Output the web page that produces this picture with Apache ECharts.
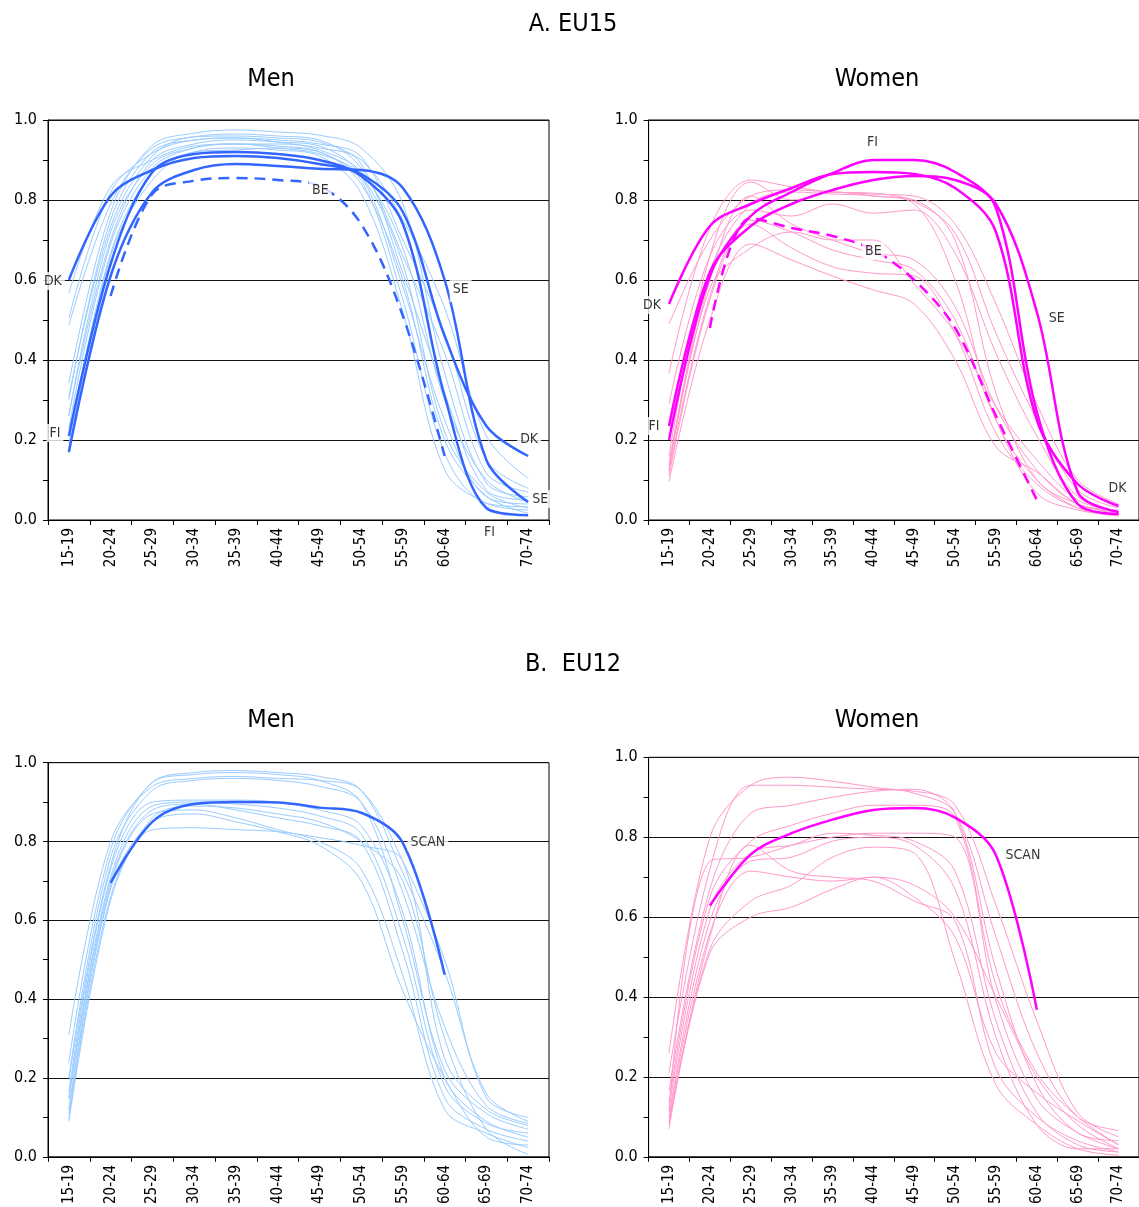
<!DOCTYPE html>
<html><head><meta charset="utf-8">
<script src="https://cdn.jsdelivr.net/npm/echarts/dist/echarts.min.js"></script>
<style>html,body{margin:0;padding:0;background:#fff}#c{width:1139px;height:1207px}</style>
</head><body><div id="c"></div>
<script>
// ---------- DATA ----------
const categories = ['15-19','20-24','25-29','30-34','35-39','40-44','45-49','50-54','55-59','60-64','65-69','70-74'];
const yMin = 0, yMax = 1, yStep = 0.2;

// A. EU15 — Men
const eu15MenDK = [0.60, 0.81, 0.875, 0.905, 0.91, 0.905, 0.89, 0.865, 0.77, 0.46, 0.235, 0.16];
const eu15MenFI = [0.21, 0.64, 0.87, 0.915, 0.92, 0.915, 0.90, 0.86, 0.74, 0.31, 0.03, 0.012];
const eu15MenSE = [0.17, 0.61, 0.82, 0.875, 0.89, 0.885, 0.878, 0.875, 0.83, 0.60, 0.15, 0.045];
const eu15MenBE = [null, 0.56, 0.815, 0.848, 0.855, 0.85, 0.835, 0.74, 0.51, 0.16, null, null];
const eu15MenOther = [
  [0.567, 0.833, 0.90, 0.935, 0.94, 0.94, 0.93, 0.90, 0.75, 0.53, 0.21, 0.104],
  [0.504, 0.82, 0.917, 0.95, 0.955, 0.95, 0.94, 0.908, 0.70, 0.467, 0.15, 0.079],
  [0.487, 0.79, 0.93, 0.958, 0.965, 0.96, 0.95, 0.88, 0.66, 0.417, 0.117, 0.07],
  [0.342, 0.77, 0.937, 0.967, 0.975, 0.97, 0.962, 0.93, 0.79, 0.367, 0.092, 0.058],
  [0.308, 0.733, 0.91, 0.958, 0.96, 0.955, 0.945, 0.89, 0.617, 0.317, 0.075, 0.05],
  [0.262, 0.70, 0.90, 0.94, 0.95, 0.945, 0.935, 0.86, 0.583, 0.25, 0.058, 0.04],
  [0.23, 0.69, 0.88, 0.93, 0.94, 0.935, 0.92, 0.85, 0.55, 0.167, 0.042, 0.033],
  [0.19, 0.667, 0.867, 0.92, 0.93, 0.925, 0.91, 0.817, 0.52, 0.125, 0.042, 0.025],
  [0.167, 0.66, 0.85, 0.92, 0.925, 0.93, 0.92, 0.84, 0.60, 0.20, 0.06, 0.017],
  [0.30, 0.75, 0.92, 0.95, 0.955, 0.945, 0.925, 0.87, 0.68, 0.30, 0.10, 0.045],
  [0.26, 0.72, 0.89, 0.93, 0.94, 0.93, 0.915, 0.86, 0.64, 0.22, 0.07, 0.03]
];

// A. EU15 — Women
const eu15WomenDK = [0.54, 0.735, 0.79, 0.83, 0.865, 0.87, 0.865, 0.83, 0.72, 0.25, 0.09, 0.035];
const eu15WomenFI = [0.20, 0.61, 0.76, 0.82, 0.867, 0.90, 0.90, 0.87, 0.78, 0.27, 0.04, 0.015];
const eu15WomenSE = [0.235, 0.62, 0.735, 0.79, 0.825, 0.85, 0.86, 0.85, 0.79, 0.52, 0.07, 0.02];
const eu15WomenBE = [null, 0.48, 0.755, 0.73, 0.71, 0.675, 0.60, 0.48, 0.26, 0.05, null, null];
const eu15WomenOther = [
  [0.49, 0.70, 0.81, 0.825, 0.82, 0.815, 0.81, 0.74, 0.54, 0.29, 0.10, 0.04],
  [0.367, 0.73, 0.85, 0.833, 0.82, 0.817, 0.796, 0.717, 0.467, 0.25, 0.075, 0.03],
  [0.29, 0.66, 0.775, 0.76, 0.79, 0.767, 0.775, 0.667, 0.417, 0.21, 0.058, 0.02],
  [0.16, 0.66, 0.845, 0.80, 0.82, 0.81, 0.80, 0.70, 0.317, 0.10, 0.04, 0.015],
  [0.133, 0.60, 0.81, 0.74, 0.70, 0.667, 0.65, 0.533, 0.283, 0.125, 0.04, 0.02],
  [0.12, 0.56, 0.75, 0.72, 0.675, 0.65, 0.625, 0.50, 0.25, 0.067, 0.025, 0.012],
  [0.11, 0.55, 0.74, 0.68, 0.633, 0.617, 0.61, 0.467, 0.217, 0.09, 0.03, 0.015],
  [0.096, 0.50, 0.69, 0.65, 0.61, 0.575, 0.54, 0.40, 0.183, 0.12, 0.04, 0.025],
  [0.14, 0.58, 0.68, 0.72, 0.70, 0.70, 0.59, 0.467, 0.283, 0.15, 0.05, 0.02],
  [0.125, 0.62, 0.79, 0.82, 0.815, 0.81, 0.79, 0.60, 0.25, 0.10, 0.03, 0.01]
];

// B. EU12 — Men
const eu12MenSCAN = [null, 0.695, 0.85, 0.895, 0.90, 0.899, 0.886, 0.873, 0.796, 0.462, null, null];
const eu12MenOther = [
  [0.31, 0.80, 0.94, 0.96, 0.965, 0.96, 0.955, 0.93, 0.75, 0.50, 0.15, 0.10],
  [0.24, 0.78, 0.95, 0.975, 0.98, 0.975, 0.965, 0.93, 0.72, 0.47, 0.16, 0.09],
  [0.20, 0.76, 0.93, 0.955, 0.96, 0.955, 0.94, 0.90, 0.67, 0.33, 0.13, 0.085],
  [0.195, 0.74, 0.95, 0.97, 0.975, 0.97, 0.955, 0.90, 0.60, 0.22, 0.11, 0.07],
  [0.165, 0.73, 0.90, 0.905, 0.905, 0.90, 0.88, 0.84, 0.62, 0.20, 0.09, 0.05],
  [0.15, 0.71, 0.89, 0.90, 0.895, 0.885, 0.865, 0.82, 0.56, 0.18, 0.085, 0.06],
  [0.145, 0.70, 0.88, 0.895, 0.88, 0.86, 0.84, 0.80, 0.52, 0.15, 0.07, 0.04],
  [0.12, 0.69, 0.87, 0.88, 0.86, 0.83, 0.80, 0.73, 0.46, 0.12, 0.06, 0.023],
  [0.11, 0.68, 0.85, 0.87, 0.85, 0.825, 0.79, 0.70, 0.42, 0.20, 0.05, 0.03],
  [0.095, 0.66, 0.83, 0.835, 0.83, 0.825, 0.81, 0.79, 0.75, 0.25, 0.12, 0.08],
  [0.09, 0.65, 0.86, 0.89, 0.885, 0.87, 0.85, 0.80, 0.70, 0.30, 0.07, 0.006]
];

// B. EU12 — Women
const eu12WomenSCAN = [null, 0.629, 0.757, 0.81, 0.844, 0.868, 0.873, 0.849, 0.755, 0.368, null, null];
const eu12WomenOther = [
  [0.26, 0.80, 0.93, 0.95, 0.94, 0.925, 0.91, 0.86, 0.55, 0.26, 0.10, 0.066],
  [0.21, 0.72, 0.93, 0.93, 0.925, 0.92, 0.915, 0.88, 0.63, 0.34, 0.11, 0.05],
  [0.165, 0.67, 0.86, 0.88, 0.90, 0.915, 0.92, 0.86, 0.47, 0.18, 0.06, 0.04],
  [0.136, 0.65, 0.79, 0.83, 0.86, 0.88, 0.88, 0.85, 0.43, 0.21, 0.10, 0.03],
  [0.12, 0.62, 0.76, 0.78, 0.80, 0.81, 0.81, 0.80, 0.39, 0.145, 0.06, 0.02],
  [0.112, 0.74, 0.75, 0.78, 0.81, 0.805, 0.79, 0.715, 0.34, 0.11, 0.03, 0.012],
  [0.10, 0.59, 0.74, 0.75, 0.79, 0.80, 0.78, 0.67, 0.30, 0.08, 0.02, 0.02],
  [0.095, 0.56, 0.715, 0.70, 0.69, 0.70, 0.65, 0.55, 0.26, 0.16, 0.09, 0.03],
  [0.085, 0.55, 0.78, 0.715, 0.70, 0.69, 0.64, 0.59, 0.22, 0.10, 0.04, 0.012],
  [0.08, 0.52, 0.64, 0.68, 0.75, 0.775, 0.76, 0.49, 0.18, 0.08, 0.02, 0.004],
  [0.07, 0.51, 0.60, 0.625, 0.67, 0.70, 0.68, 0.60, 0.40, 0.20, 0.08, 0.02]
];

// Annotation texts with their anchor (category index, value)
const notesEU15Men = [['DK',0,0.5975],['FI',0,0.2175],['BE',6,0.825],['SE',9,0.576],['DK',11,0.2025],['SE',11,0.0525],['FI',10,-0.03]];
const notesEU15Women = [['FI',5,0.945],['BE',5,0.6725],['DK',0,0.5375],['FI',0,0.235],['SE',9,0.505],['DK',11,0.08]];
const notesEU12Men = [['SCAN',8,0.799]];
const notesEU12Women = [['SCAN',8,0.755]];

// ---------- STYLE / LAYOUT ----------
const FONT = "'DejaVu Sans Condensed','DejaVu Sans',sans-serif";
const TFONT = "'Liberation Sans Narrow','Arial Narrow','DejaVu Sans Condensed',sans-serif";
const LIGHT_BLUE = '#99ccff', BLUE = '#3366ff', PINK = '#ff99cc', MAGENTA = '#ff00ff';
const noteDx = {
  0: [-16, -14, 1, 16, 1, 12, 3],
  1: [-1, 0, -17, -15, 20, -1],
  2: [25],
  3: [27]
};
const notePad = {0: {3: [9, 3, 2, 3]}};

const panels = [
  {grid:{left:48, top:120, width:501, height:400}, other:eu15MenOther, oc:LIGHT_BLUE, thick:[eu15MenDK, eu15MenFI, eu15MenSE], dashed:eu15MenBE, tc:BLUE, notes:notesEU15Men, hide:[10]},
  {grid:{left:648.6, top:120, width:500, height:400}, other:eu15WomenOther, oc:PINK, thick:[eu15WomenDK, eu15WomenFI, eu15WomenSE], dashed:eu15WomenBE, tc:MAGENTA, notes:notesEU15Women, hide:[]},
  {grid:{left:48, top:762.7, width:501, height:395}, other:eu12MenOther, oc:LIGHT_BLUE, thick:[eu12MenSCAN], dashed:null, tc:BLUE, notes:notesEU12Men, hide:[]},
  {grid:{left:648.6, top:757.3, width:500, height:402.7}, other:eu12WomenOther, oc:PINK, thick:[eu12WomenSCAN], dashed:null, tc:MAGENTA, notes:notesEU12Women, hide:[]}
];

const grids = [], xAxes = [], yAxes = [], series = [];
panels.forEach((p, i) => {
  grids.push(Object.assign({show:true, borderColor:'#000', borderWidth:1, backgroundColor:'transparent'}, p.grid));
  xAxes.push({
    type:'category', gridIndex:i, data:categories, boundaryGap:true,
    axisLine:{show:true, lineStyle:{color:'#000', width:1}},
    axisTick:{show:true, length:5, inside:false, lineStyle:{color:'#000'}},
    axisLabel:{rotate:90, interval:0, margin:8, color:'#000', fontSize:15, fontFamily:FONT,
      formatter:(v, idx) => p.hide.indexOf(idx) >= 0 ? '' : v},
    splitLine:{show:false}
  });
  yAxes.push({
    type:'value', gridIndex:i, min:yMin, max:yMax, interval:yStep,
    axisLine:{show:true, lineStyle:{color:'#000', width:1}},
    axisTick:{show:true, length:5, lineStyle:{color:'#000'}},
    minorTick:{show:true, splitNumber:2, length:5, lineStyle:{color:'#000'}},
    axisLabel:{margin:11, color:'#000', fontSize:16, fontFamily:FONT, formatter:v => v.toFixed(1)},
    splitLine:{show:true, lineStyle:{color:'#111', width:1}}
  });
  p.other.forEach(d => series.push({
    type:'line', xAxisIndex:i, yAxisIndex:i, data:d, smooth:0.35, symbol:'none', silent:true, z:2,
    lineStyle:{color:p.oc, width:1}
  }));
  p.thick.forEach(d => series.push({
    type:'line', xAxisIndex:i, yAxisIndex:i, data:d, smooth:0.35, symbol:'none', silent:true, z:4,
    lineStyle:{color:p.tc, width:2.5}
  }));
  if (p.dashed) series.push({
    type:'line', xAxisIndex:i, yAxisIndex:i, data:p.dashed, smooth:0.35, symbol:'none', silent:true, z:4,
    lineStyle:{color:p.tc, width:2.5, type:[11,7]}
  });
  series.push({
    type:'scatter', xAxisIndex:i, yAxisIndex:i, z:10, clip:false, silent:true, symbolSize:1,
    itemStyle:{color:'rgba(0,0,0,0)'},
    data:p.notes.map((n, k) => ({
      value:[categories[n[1]], n[2]],
      label:{show:true, position:'inside', formatter:n[0], offset:[noteDx[i][k], 0],
        color:'#000', fontSize:14, fontFamily:FONT, backgroundColor:'#fff',
        padding:(notePad[i] && notePad[i][k]) || [2,3]}
    }))
  });
});

const titleStyle = {fontSize:25, fontWeight:'normal', fontFamily:TFONT, color:'#000'};
const titles = [
  {text:'A. EU15', left:573, top:12},
  {text:'Men', left:271, top:67},
  {text:'Women', left:877, top:67},
  {text:'B.  EU12', left:573, top:652},
  {text:'Men', left:271, top:708},
  {text:'Women', left:877, top:708}
].map(t => Object.assign({textAlign:'center', padding:0, textStyle:titleStyle}, t));

const chart = echarts.init(document.getElementById('c'), null, {renderer:'canvas'});
chart.setOption({
  animation:false, backgroundColor:'#fff',
  title:titles, grid:grids, xAxis:xAxes, yAxis:yAxes, series:series
});
</script></body></html>
